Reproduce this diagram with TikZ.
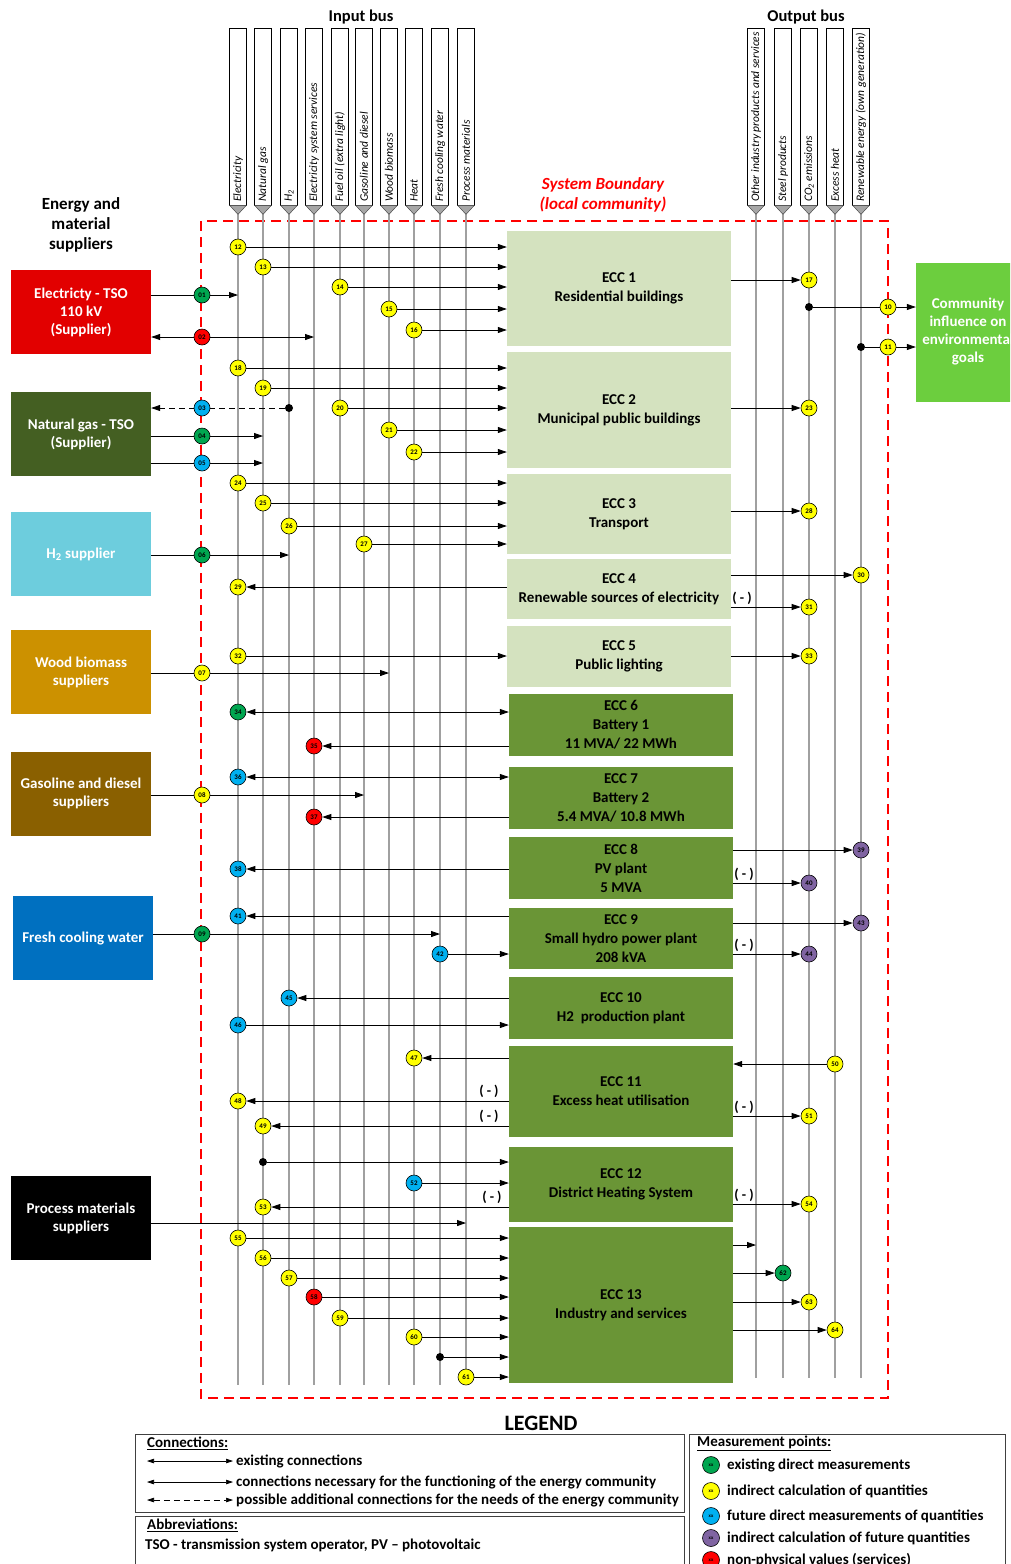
\documentclass[tikz,border=0pt]{standalone}
\usepackage{fontspec}
\setmainfont{Carlito}
\usetikzlibrary{arrows.meta,calc}
\pgfdeclarelayer{bg}
\pgfsetlayers{bg,main}
\definecolor{eccl}{HTML}{D4E2BF}
\definecolor{eccd}{HTML}{6A9536}
\definecolor{mpgreen}{HTML}{00A650}
\definecolor{mpyellow}{HTML}{FFFF00}
\definecolor{mpblue}{HTML}{00B0F0}
\definecolor{mppurple}{HTML}{8064A2}
\definecolor{mpred}{HTML}{FF0000}
\definecolor{busgray}{HTML}{A0A0A0}
\definecolor{trigray}{HTML}{A6A6A6}
\definecolor{supred}{HTML}{E20000}
\definecolor{supng}{HTML}{445F22}
\definecolor{suph}{HTML}{6DCDDD}
\definecolor{supwood}{HTML}{CC9100}
\definecolor{supgas}{HTML}{8A6000}
\definecolor{supwater}{HTML}{0070C0}
\definecolor{commgreen}{HTML}{6CCE3E}
\tikzset{
  mp/.style={circle,draw=black,line width=0.6pt,minimum size=16pt,inner sep=0pt,font=\fontsize{7}{7}\selectfont\bfseries},
  mpG/.style={mp,fill=mpgreen},
  mpY/.style={mp,fill=mpyellow},
  mpB/.style={mp,fill=mpblue},
  mpP/.style={mp,fill=mppurple},
  mpR/.style={mp,fill=mpred},
  jdot/.style={circle,fill=black,minimum size=8pt,inner sep=0pt},
  arr/.style={-{Triangle[length=9pt,width=6pt]},line width=0.8pt},
  darr/.style={{Triangle[length=9pt,width=6pt]}-{Triangle[length=9pt,width=6pt]},line width=0.8pt},
  ldarr/.style={{Triangle[length=7pt,width=4.5pt]}-{Triangle[length=7pt,width=4.5pt]},line width=0.7pt},
  busline/.style={busgray,line width=2.6pt},
  hdr/.style={draw,fill=white,line width=0.7pt,minimum width=17pt,inner sep=0pt},
  hdrtxt/.style={rotate=90,anchor=west,inner sep=0pt,font=\fontsize{11.5}{12}\selectfont\itshape},
  eccL/.style={fill=eccl,minimum width=224pt,inner sep=0pt,align=center,font=\fontsize{15}{19}\selectfont\bfseries},
  eccD/.style={eccL,fill=eccd},
  sup/.style={minimum width=140pt,minimum height=84pt,inner sep=0pt,align=center,text=white,font=\fontsize{15}{18}\selectfont\bfseries},
  mlab/.style={inner sep=0pt,font=\fontsize{14}{14}\selectfont\bfseries},
  ltxt/.style={anchor=west,inner sep=0pt,font=\fontsize{15}{17}\selectfont\bfseries},
  lbox/.style={draw=black!75,line width=0.9pt},
}
\begin{document}
\begin{tikzpicture}[x=1pt,y=-1pt]
\useasboundingbox (0,0) rectangle (1010,1564);
\clip (0,0) rectangle (1010,1564);

% ---------- titles
\node[font=\fontsize{16.5}{18}\selectfont\bfseries] (tin) at (361,17) {Input bus};
\node[font=\fontsize{16.5}{18}\selectfont\bfseries] (tout) at (806,17) {Output bus};
\node[align=center,font=\fontsize{17}{20}\selectfont\bfseries] (tsup) at (81,225) {Energy and\\material\\suppliers};
\node[align=center,text=red,font=\fontsize{17}{20}\selectfont\bfseries\itshape] (tsb) at (603,195) {System Boundary\\(local community)};

% ---------- boundary
\begin{pgfonlayer}{bg}
\draw[red,line width=1.4pt,dash pattern=on 10pt off 6pt] (201,221) rectangle (888,1398);
\end{pgfonlayer}

% ---------- input bus headers
\foreach \x/\t [count=\i] in {238/Electricity,263/Natural gas,289/{H\textsubscript{2}},314/Electricity system services,340/Fuel oil (extra light),364/Gasoline and diesel,389/Wood biomass,414/Heat,440/Fresh cooling water,466/Process materials}{
  \node[hdr,minimum height=177pt] (ib\i) at (\x,116.5) {};
  \node[hdrtxt] (ibt\i) at (\x,202) {\t};
  \draw[fill=trigray,draw=black!70,line width=0.5pt] ($(ib\i.south west)+(0.5,0)$) -- ($(ib\i.south east)+(-0.5,0)$) -- ($(ib\i.south)+(0,9)$) -- cycle;
  \begin{pgfonlayer}{bg}
  \draw[busline] ($(ib\i.south)+(0,9)$) -- ($(ib\i.south)+(0,1180)$);
  \end{pgfonlayer}
}
% ---------- output bus headers
\foreach \x/\t [count=\i] in {756/Other industry products and services,783/Steel products,809/{CO\textsubscript{2} emissions},835/Excess heat,861/Renewable energy (own generation)}{
  \node[hdr,minimum height=177pt] (ob\i) at (\x,116.5) {};
  \node[hdrtxt] (obt\i) at (\x,202) {\t};
  \draw[fill=trigray,draw=black!70,line width=0.5pt] ($(ob\i.south west)+(0.5,0)$) -- ($(ob\i.south east)+(-0.5,0)$) -- ($(ob\i.south)+(0,9)$) -- cycle;
  \begin{pgfonlayer}{bg}
  \draw[busline] ($(ob\i.south)+(0,9)$) -- ($(ob\i.south)+(0,1173)$);
  \end{pgfonlayer}
}

% ---------- suppliers
\node[sup,fill=supred] (elsup) at (81,312) {Electricty - TSO\\110 kV\\(Supplier)};
\node[sup,fill=supng] (ngsup) at (81,434) {Natural gas - TSO\\(Supplier)};
\node[sup,fill=suph] (h2sup) at (81,554) {H\textsubscript{2} supplier};
\node[sup,fill=supwood] (wdsup) at (81,672) {Wood biomass\\suppliers};
\node[sup,fill=supgas] (gssup) at (81,793.5) {Gasoline and diesel\\suppliers};
\node[sup,fill=supwater] (wtsup) at (83,938) {Fresh cooling water};
\node[sup,fill=black] (prsup) at (81,1218) {Process materials\\suppliers};
\node[sup,fill=commgreen,minimum width=104pt,minimum height=139pt] (comm) at (968,332) {Community\\influence on\\environmental\\goals};

% ---------- ECC boxes
\node[eccL,minimum height=115pt] (ecc1) at (619,288.5) {ECC 1\\Residential buildings};
\node[eccL,minimum height=116pt] (ecc2) at (619,410) {ECC 2\\Municipal public buildings};
\node[eccL,minimum height=80pt] (ecc3) at (619,514) {ECC 3\\Transport};
\node[eccL,minimum height=60pt] (ecc4) at (619,589) {ECC 4\\Renewable sources of electricity};
\node[eccL,minimum height=61pt] (ecc5) at (619,656.5) {ECC 5\\Public lighting};
\node[eccD,minimum height=62pt] (ecc6) at (621,724.5) {ECC 6\\Battery 1\\11 MVA/ 22 MWh};
\node[eccD,minimum height=62pt] (ecc7) at (621,798) {ECC 7\\Battery 2\\5.4 MVA/ 10.8 MWh};
\node[eccD,minimum height=62pt] (ecc8) at (621,868) {ECC 8\\PV plant\\5 MVA};
\node[eccD,minimum height=61pt] (ecc9) at (621,938.5) {ECC 9\\Small hydro power plant\\208 kVA};
\node[eccD,minimum height=62pt] (ecc10) at (621,1008) {ECC 10\\H2\ \ production plant};
\node[eccD,minimum height=91pt] (ecc11) at (621,1091.5) {ECC 11\\Excess heat utilisation};
\node[eccD,minimum height=75pt] (ecc12) at (621,1184.5) {ECC 12\\District Heating System};
\node[eccD,minimum height=156pt] (ecc13) at (621,1305) {ECC 13\\Industry and services};

% ---------- measurement points
\node[mpG] (m01) at (202,295) {01};
\node[mpR] (m02) at (202,337) {02};
\node[mpB] (m03) at (202,408) {03};
\node[mpG] (m04) at (202,436) {04};
\node[mpB] (m05) at (202,463) {05};
\node[mpG] (m06) at (202,555) {06};
\node[mpY] (m07) at (202,673) {07};
\node[mpY] (m08) at (202,795) {08};
\node[mpG] (m09) at (202,934) {09};
\node[mpY] (m10) at (888,307) {10};
\node[mpY] (m11) at (888,347) {11};
\node[mpY] (m12) at (238,247) {12};
\node[mpY] (m13) at (263,267) {13};
\node[mpY] (m14) at (340,287) {14};
\node[mpY] (m15) at (389,309) {15};
\node[mpY] (m16) at (414,330) {16};
\node[mpY] (m17) at (809,280) {17};
\node[mpY] (m18) at (238,368) {18};
\node[mpY] (m19) at (263,388) {19};
\node[mpY] (m20) at (340,408) {20};
\node[mpY] (m21) at (389,430) {21};
\node[mpY] (m22) at (414,452) {22};
\node[mpY] (m23) at (809,408) {23};
\node[mpY] (m24) at (238,483) {24};
\node[mpY] (m25) at (263,503) {25};
\node[mpY] (m26) at (289,526) {26};
\node[mpY] (m27) at (364,544) {27};
\node[mpY] (m28) at (809,511) {28};
\node[mpY] (m29) at (238,587) {29};
\node[mpY] (m30) at (861,575) {30};
\node[mpY] (m31) at (809,607) {31};
\node[mpY] (m32) at (238,656) {32};
\node[mpY] (m33) at (809,656) {33};
\node[mpG] (m34) at (238,712) {34};
\node[mpR] (m35) at (314,746) {35};
\node[mpB] (m36) at (238,777) {36};
\node[mpR] (m37) at (314,817) {37};
\node[mpB] (m38) at (238,869) {38};
\node[mpP] (m39) at (861,850) {39};
\node[mpP] (m40) at (809,883) {40};
\node[mpB] (m41) at (238,916) {41};
\node[mpB] (m42) at (440,954) {42};
\node[mpP] (m43) at (861,923) {43};
\node[mpP] (m44) at (809,954) {44};
\node[mpB] (m45) at (289,998) {45};
\node[mpB] (m46) at (238,1025) {46};
\node[mpY] (m47) at (414,1058) {47};
\node[mpY] (m48) at (238,1101) {48};
\node[mpY] (m49) at (263,1126) {49};
\node[mpY] (m50) at (835,1064) {50};
\node[mpY] (m51) at (809,1116) {51};
\node[mpB] (m52) at (414,1183) {52};
\node[mpY] (m53) at (263,1207) {53};
\node[mpY] (m54) at (809,1204) {54};
\node[mpY] (m55) at (238,1238) {55};
\node[mpY] (m56) at (263,1258) {56};
\node[mpY] (m57) at (289,1278) {57};
\node[mpR] (m58) at (314,1297) {58};
\node[mpY] (m59) at (340,1318) {59};
\node[mpY] (m60) at (414,1337) {60};
\node[mpY] (m61) at (466,1377) {61};
\node[mpG] (m62) at (783,1273) {62};
\node[mpY] (m63) at (809,1302) {63};
\node[mpY] (m64) at (835,1330) {64};
% junction dots
\node[jdot] (d03) at (289,408) {};
\node[jdot] (d10) at (809,307) {};
\node[jdot] (d11) at (861,347) {};
\node[jdot] (d12) at (263,1162) {};
\node[jdot] (d13) at (440,1357) {};

% ---------- connectors
\begin{pgfonlayer}{bg}
\draw[arr] (elsup.east |- m01) -- (m01 -| ib1.south);
\draw[darr] (elsup.east |- m02) -- (m02 -| ib4.south);
\draw[arr,dash pattern=on 6pt off 4pt] (d03) -- (ngsup.east |- d03);
\draw[arr] (ngsup.east |- m04) -- (m04 -| ib2.south);
\draw[arr] (ngsup.east |- m05) -- (m05 -| ib2.south);
\draw[arr] (h2sup.east |- m06) -- (m06 -| ib3.south);
\draw[arr] (wdsup.east |- m07) -- (m07 -| ib7.south);
\draw[arr] (gssup.east |- m08) -- (m08 -| ib6.south);
\draw[arr] (wtsup.east |- m09) -- (m09 -| ib9.south);
\draw[arr] ([yshift=-5pt]prsup.east) -- ([yshift=-5pt]prsup.east -| ib10.south);
\draw[arr] (d10) -- (d10 -| comm.west);
\draw[arr] (d11) -- (d11 -| comm.west);
% into ECC from the left
\foreach \m/\e in {12/1,13/1,14/1,15/1,16/1,18/2,19/2,20/2,21/2,22/2,24/3,25/3,26/3,27/3,32/5,42/9,46/10,52/12,55/13,56/13,57/13,58/13,59/13,60/13,61/13}
  \draw[arr] (m\m) -- (m\m -| ecc\e.west);
\draw[arr] (d12) -- (d12 -| ecc12.west);
\draw[arr] (d13) -- (d13 -| ecc13.west);
% out of ECC to the left
\foreach \m/\e in {29/4,35/6,37/7,38/8,41/9,45/10,47/11,48/11,49/11,53/12}
  \draw[arr] (m\m -| ecc\e.west) -- (m\m);
\foreach \m/\e in {34/6,36/7}
  \draw[darr] (m\m) -- (m\m -| ecc\e.west);
% out of ECC to the right
\foreach \m/\e in {17/1,23/2,28/3,30/4,31/4,33/5,39/8,40/8,43/9,44/9,51/11,54/12,62/13,63/13,64/13}
  \draw[arr] (m\m -| ecc\e.east) -- (m\m);
\draw[arr] (m50) -- (m50 -| ecc11.east);
\draw[arr] ([yshift=60pt]ecc13.east) -- ([yshift=60pt]ecc13.east -| ob1.south);
\end{pgfonlayer}

% ---------- ( - ) labels
\foreach \m/\e in {31/4,40/8,44/9,51/11,54/12}
  \node[mlab,anchor=south west] at ($(m\m -| ecc\e.east)+(1,-2)$) {( - )};
\foreach \m/\e in {48/11,49/11}
  \node[mlab,anchor=south east] at ($(m\m -| ecc\e.west)+(-10,-3)$) {( - )};
\node[mlab,anchor=south east] at ($(m53 -| ecc12.west)+(-7,-3)$) {( - )};

% ---------- legend
\node[font=\fontsize{22}{24}\selectfont\bfseries] (lgt) at (541,1423) {LEGEND};
\draw[lbox] (135,1434) rectangle (684,1512);
\draw[lbox] (135,1516) rectangle (684,1575);
\draw[lbox] (689,1434) rectangle (1005,1575);
\node[ltxt] (lh1) at (147,1443) {\underline{Connections:}};
\coordinate (la1) at (147,1461); \coordinate (lb1) at (233,1461);
\coordinate (la2) at (147,1482); \coordinate (lb2) at (233,1482);
\coordinate (la3) at (147,1500); \coordinate (lb3) at (233,1500);
\draw[ldarr] (la1) -- (lb1);
\draw[ldarr] (la2) -- (lb2);
\draw[ldarr,dash pattern=on 6pt off 4pt] (la3) -- (lb3);
\node[ltxt] (lt1) at (236,1461) {existing connections};
\node[ltxt] (lt2) at (236,1482) {connections necessary for the functioning of the energy community};
\node[ltxt] (lt3) at (236,1500) {possible additional connections for the needs of the energy community};
\node[ltxt] (lh2) at (147,1525) {\underline{Abbreviations:}};
\node[ltxt] (lt4) at (145,1545) {TSO - transmission system operator, PV -- photovoltaic};
\node[ltxt] (lh3) at (697,1443) {\underline{Measurement points:}};
\foreach \c/\y/\t [count=\i] in {mpG/1465/existing direct measurements,mpY/1491/indirect calculation of quantities,mpB/1516/future direct measurements of quantities,mpP/1538/indirect calculation of future quantities,mpR/1560/non-physical values (services)}{
  \node[\c,minimum size=17pt,font=\fontsize{5}{5}\selectfont\bfseries] (lc\i) at (711,\y) {xx};
  \node[ltxt] (lm\i) at (727,\y) {\t};
}
\end{tikzpicture}
\end{document}
